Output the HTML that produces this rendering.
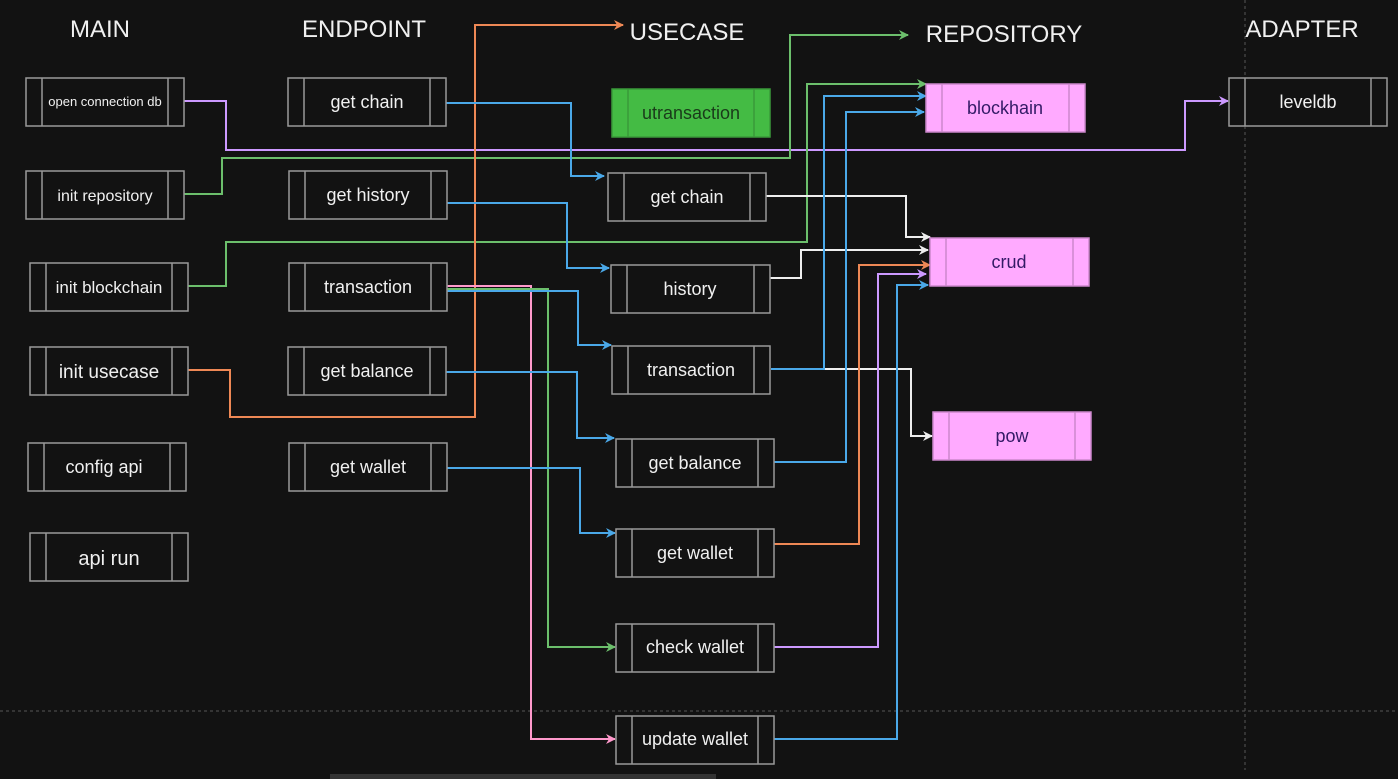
<!DOCTYPE html>
<html><head><meta charset="utf-8"><style>
html,body{margin:0;padding:0;background:#121212;}
svg{display:block;}
text{font-family:"Liberation Sans",sans-serif;}
</style></head><body>
<svg width="1398" height="779" viewBox="0 0 1398 779" xmlns="http://www.w3.org/2000/svg">
<defs>
<marker id="a" viewBox="0 0 10 10" refX="9" refY="5" markerWidth="10" markerHeight="10" markerUnits="userSpaceOnUse" orient="auto"><path d="M0,0 L10,5 L0,10 L3,5 Z" fill="context-stroke"/></marker>
<marker id="aw" viewBox="0 0 10 10" refX="9" refY="5" markerWidth="10" markerHeight="10" markerUnits="userSpaceOnUse" orient="auto"><path d="M0,0 L10,5 L0,10 L3,5 Z" fill="#eeeeee"/></marker>
<marker id="ab" viewBox="0 0 10 10" refX="9" refY="5" markerWidth="10" markerHeight="10" markerUnits="userSpaceOnUse" orient="auto"><path d="M0,0 L10,5 L0,10 L3,5 Z" fill="#4aa8e8"/></marker>
<marker id="ag" viewBox="0 0 10 10" refX="9" refY="5" markerWidth="10" markerHeight="10" markerUnits="userSpaceOnUse" orient="auto"><path d="M0,0 L10,5 L0,10 L3,5 Z" fill="#6cbf6c"/></marker>
<marker id="ao" viewBox="0 0 10 10" refX="9" refY="5" markerWidth="10" markerHeight="10" markerUnits="userSpaceOnUse" orient="auto"><path d="M0,0 L10,5 L0,10 L3,5 Z" fill="#ee8855"/></marker>
<marker id="ap" viewBox="0 0 10 10" refX="9" refY="5" markerWidth="10" markerHeight="10" markerUnits="userSpaceOnUse" orient="auto"><path d="M0,0 L10,5 L0,10 L3,5 Z" fill="#cc99ff"/></marker>
<marker id="ak" viewBox="0 0 10 10" refX="9" refY="5" markerWidth="10" markerHeight="10" markerUnits="userSpaceOnUse" orient="auto"><path d="M0,0 L10,5 L0,10 L3,5 Z" fill="#ff99cc"/></marker>
</defs>
<rect width="1398" height="779" fill="#121212"/>
<line x1="1245" y1="0" x2="1245" y2="770" stroke="#555" stroke-dasharray="3,3"/>
<line x1="0" y1="711" x2="1398" y2="711" stroke="#555" stroke-dasharray="3,3"/>
<rect x="330" y="774" width="386" height="5" fill="#333"/>

<g font-size="24" fill="#f0f0f0" text-anchor="middle">
<text x="100" y="37">MAIN</text>
<text x="364" y="37">ENDPOINT</text>
<text x="687" y="40">USECASE</text>
<text x="1004" y="42">REPOSITORY</text>
<text x="1302" y="37">ADAPTER</text>
</g>

<g fill="none" stroke-width="2">
<polyline points="184,101 226,101 226,150 1185,150 1185,101 1228,101" stroke="#cc99ff" marker-end="url(#ap)"/>
<polyline points="184,194 222,194 222,158 790,158 790,35 908,35" stroke="#6cbf6c" marker-end="url(#ag)"/>
<polyline points="188,286 226,286 226,242 807,242 807,84 926,84" stroke="#6cbf6c" marker-end="url(#ag)"/>
<polyline points="188,370 230,370 230,417 475,417 475,25 623,25" stroke="#ee8855" marker-end="url(#ao)"/>
<polyline points="446,103 571,103 571,176 604,176" stroke="#4aa8e8" marker-end="url(#ab)"/>
<polyline points="447,203 567,203 567,268 609,268" stroke="#4aa8e8" marker-end="url(#ab)"/>
<polyline points="447,286 531,286 531,739 615,739" stroke="#ff99cc" marker-end="url(#ak)"/>
<polyline points="447,289 548,289 548,647 615,647" stroke="#6cbf6c" marker-end="url(#ag)"/>
<polyline points="447,291 578,291 578,345 611,345" stroke="#4aa8e8" marker-end="url(#ab)"/>
<polyline points="446,372 577,372 577,438 614,438" stroke="#4aa8e8" marker-end="url(#ab)"/>
<polyline points="447,468 580,468 580,533 615,533" stroke="#4aa8e8" marker-end="url(#ab)"/>
<polyline points="766,196 906,196 906,237 930,237" stroke="#eeeeee" marker-end="url(#aw)"/>
<polyline points="770,278 801,278 801,250 928,250" stroke="#eeeeee" marker-end="url(#aw)"/>
<polyline points="824,369 911,369 911,436 932,436" stroke="#eeeeee" marker-end="url(#aw)"/>
<polyline points="771,369 824,369 824,96 926,96" stroke="#4aa8e8" marker-end="url(#ab)"/>
<polyline points="774,462 846,462 846,112 924,112" stroke="#4aa8e8" marker-end="url(#ab)"/>
<polyline points="774,544 859,544 859,265 930,265" stroke="#ee8855" marker-end="url(#ao)"/>
<polyline points="774,647 878,647 878,274 926,274" stroke="#cc99ff" marker-end="url(#ap)"/>
<polyline points="774,739 897,739 897,285 928,285" stroke="#4aa8e8" marker-end="url(#ab)"/>
</g>

<g id="boxes" font-size="18" text-anchor="middle">
<!-- generic box: rect + inner lines -->
<g stroke="#999" stroke-width="1.5" fill="#121212">
<rect x="26" y="78" width="158" height="48"/><line x1="42" y1="78" x2="42" y2="126"/><line x1="168" y1="78" x2="168" y2="126"/>
<rect x="26" y="171" width="158" height="48"/><line x1="42" y1="171" x2="42" y2="219"/><line x1="168" y1="171" x2="168" y2="219"/>
<rect x="30" y="263" width="158" height="48"/><line x1="46" y1="263" x2="46" y2="311"/><line x1="172" y1="263" x2="172" y2="311"/>
<rect x="30" y="347" width="158" height="48"/><line x1="46" y1="347" x2="46" y2="395"/><line x1="172" y1="347" x2="172" y2="395"/>
<rect x="28" y="443" width="158" height="48"/><line x1="44" y1="443" x2="44" y2="491"/><line x1="170" y1="443" x2="170" y2="491"/>
<rect x="30" y="533" width="158" height="48"/><line x1="46" y1="533" x2="46" y2="581"/><line x1="172" y1="533" x2="172" y2="581"/>

<rect x="288" y="78" width="158" height="48"/><line x1="304" y1="78" x2="304" y2="126"/><line x1="430" y1="78" x2="430" y2="126"/>
<rect x="289" y="171" width="158" height="48"/><line x1="305" y1="171" x2="305" y2="219"/><line x1="431" y1="171" x2="431" y2="219"/>
<rect x="289" y="263" width="158" height="48"/><line x1="305" y1="263" x2="305" y2="311"/><line x1="431" y1="263" x2="431" y2="311"/>
<rect x="288" y="347" width="158" height="48"/><line x1="304" y1="347" x2="304" y2="395"/><line x1="430" y1="347" x2="430" y2="395"/>
<rect x="289" y="443" width="158" height="48"/><line x1="305" y1="443" x2="305" y2="491"/><line x1="431" y1="443" x2="431" y2="491"/>

<rect x="608" y="173" width="158" height="48"/><line x1="624" y1="173" x2="624" y2="221"/><line x1="750" y1="173" x2="750" y2="221"/>
<rect x="611" y="265" width="159" height="48"/><line x1="627" y1="265" x2="627" y2="313"/><line x1="754" y1="265" x2="754" y2="313"/>
<rect x="612" y="346" width="158" height="48"/><line x1="628" y1="346" x2="628" y2="394"/><line x1="754" y1="346" x2="754" y2="394"/>
<rect x="616" y="439" width="158" height="48"/><line x1="632" y1="439" x2="632" y2="487"/><line x1="758" y1="439" x2="758" y2="487"/>
<rect x="616" y="529" width="158" height="48"/><line x1="632" y1="529" x2="632" y2="577"/><line x1="758" y1="529" x2="758" y2="577"/>
<rect x="616" y="624" width="158" height="48"/><line x1="632" y1="624" x2="632" y2="672"/><line x1="758" y1="624" x2="758" y2="672"/>
<rect x="616" y="716" width="158" height="48"/><line x1="632" y1="716" x2="632" y2="764"/><line x1="758" y1="716" x2="758" y2="764"/>

<rect x="1229" y="78" width="158" height="48"/><line x1="1245" y1="78" x2="1245" y2="126"/><line x1="1371" y1="78" x2="1371" y2="126"/>
</g>
<g stroke="#3a9a3a" stroke-width="1.5" fill="#44bb44">
<rect x="612" y="89" width="158" height="48"/><line x1="628" y1="89" x2="628" y2="137"/><line x1="754" y1="89" x2="754" y2="137"/>
</g>
<g stroke="#cc88cc" stroke-width="1.5" fill="#ffaaff">
<rect x="926" y="84" width="159" height="48"/><line x1="942" y1="84" x2="942" y2="132"/><line x1="1069" y1="84" x2="1069" y2="132"/>
<rect x="930" y="238" width="159" height="48"/><line x1="946" y1="238" x2="946" y2="286"/><line x1="1073" y1="238" x2="1073" y2="286"/>
<rect x="933" y="412" width="158" height="48"/><line x1="949" y1="412" x2="949" y2="460"/><line x1="1075" y1="412" x2="1075" y2="460"/>
</g>
<g fill="#f0f0f0">
<text x="105" y="106" font-size="13">open connection db</text>
<text x="105" y="201" font-size="16">init repository</text>
<text x="109" y="293" font-size="17">init blockchain</text>
<text x="109" y="378" font-size="19">init usecase</text>
<text x="104" y="473">config api</text>
<text x="109" y="565" font-size="20">api run</text>
<text x="367" y="108">get chain</text>
<text x="368" y="201">get history</text>
<text x="368" y="293">transaction</text>
<text x="367" y="377">get balance</text>
<text x="368" y="473">get wallet</text>
<text x="687" y="203">get chain</text>
<text x="690" y="295">history</text>
<text x="691" y="376">transaction</text>
<text x="695" y="469">get balance</text>
<text x="695" y="559">get wallet</text>
<text x="695" y="653">check wallet</text>
<text x="695" y="745">update wallet</text>
<text x="1308" y="108">leveldb</text>
</g>
<g fill="#222">
<text x="691" y="119" fill="#1a3a1a">utransaction</text>
<text x="1005" y="114" fill="#331a66">blockhain</text>
<text x="1009" y="268" fill="#331a66">crud</text>
<text x="1012" y="442" fill="#331a66">pow</text>
</g>
</g>
</svg>
</body></html>
